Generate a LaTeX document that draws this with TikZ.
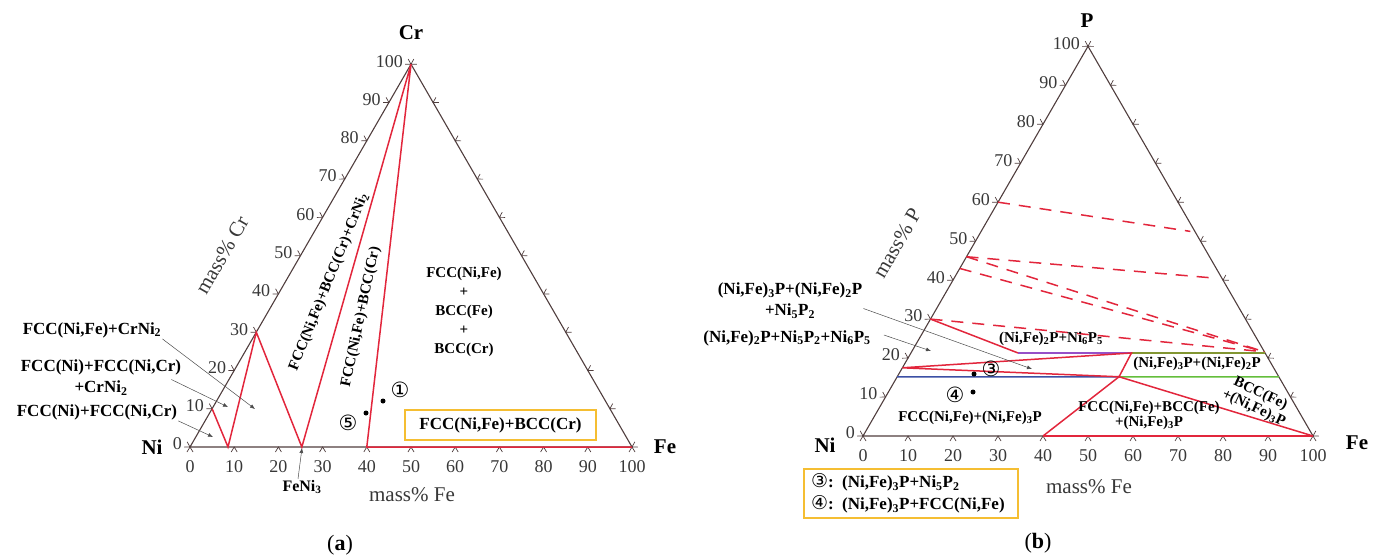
\documentclass[tikz,border=0pt]{standalone}
\usepackage{fontspec}
\setmainfont{Liberation Serif}
\newfontfamily\circfont{DejaVu Sans}
\usepackage{tikz}
\usetikzlibrary{arrows.meta, calc}
\newcommand{\ssub}[1]{\textsubscript{#1}}
\definecolor{edgec}{RGB}{80,62,62}
\definecolor{phred}{RGB}{226,38,60}
\definecolor{phpurple}{RGB}{150,80,200}
\definecolor{phblue}{RGB}{60,80,165}
\definecolor{pholive}{RGB}{130,150,50}
\definecolor{phgreen}{RGB}{100,190,60}
\definecolor{yelc}{RGB}{245,190,50}

\begin{document}
\begin{tikzpicture}[x=1pt, y=-1pt,
  >={Latex[length=5pt, width=4pt]},
  edge/.style={draw=edgec, line width=1.1pt},
  phase/.style={draw=phred, line width=1.5pt},
  tie/.style={phase, dash pattern=on 12pt off 9pt},
  tickm/.style={draw=edgec, line width=0.7pt},
  num/.style={font=\fontsize{18}{18}\selectfont, text=black!78, inner sep=0pt},
  lab/.style={font=\bfseries\fontsize{17}{21}\selectfont, align=center, inner sep=1pt},
  inlab/.style={font=\bfseries\fontsize{15}{19}\selectfont, align=center, inner sep=0pt},
  vert/.style={font=\bfseries\fontsize{21}{21}\selectfont, inner sep=0pt},
  axis/.style={font=\fontsize{21}{21}\selectfont, text=black!78, inner sep=0pt},
  ptr/.style={->, draw=black!70, line width=0.5pt},
  keybox/.style={draw=yelc, line width=1.2pt, font=\bfseries\fontsize{17}{22}\selectfont},
  circ/.style={font=\circfont\fontsize{21}{21}\selectfont, inner sep=0pt},
  dot/.style={fill=black, circle, inner sep=0pt, minimum size=5pt}
]
\useasboundingbox (0,0) rectangle (1373,559);

\coordinate (ni) at (190,447);
\coordinate (fe) at (632,447);
\coordinate (cr) at (411,64.2);
\coordinate (ni2) at (863,436);
\coordinate (fe2) at (1313,436);
\coordinate (p) at (1088,46.3);

\foreach \na/\nb/\nc in {ni/fe/cr, ni2/fe2/p} {
  \draw[edge] (\na) -- (\nb) -- (\nc) -- cycle;
  \foreach \k in {0,10,...,100} {
    \coordinate (tb) at ($(\na)!\k/100!(\nb)$);
    \coordinate (tl) at ($(\na)!\k/100!(\nc)$);
    \coordinate (tr) at ($(\nb)!\k/100!(\nc)$);
    \draw[tickm] ($(tb)+(-3,5)$) -- (tb) -- ($(tb)+(3,5)$);
    \draw[tickm] ($(tl)+(-2.8,-5.1)$) -- (tl) -- ($(tl)+(-5.8,0.1)$);
    \draw[tickm] ($(tr)+(2.8,-5.1)$) -- (tr) -- ($(tr)+(5.8,0.1)$);
    \node[num] at ($(tb)+(0,20)$) {\k};
    \node[num, anchor=east] at ($(tl)+(-8,-3)$) {\k};
  }
}

% (a) Ni-Cr-Fe
\draw[phase] (barycentric cs:ni=.9,fe=0,cr=.1) -- (barycentric cs:ni=.914,fe=.086,cr=0)
  -- (barycentric cs:ni=.7,fe=0,cr=.3) -- (barycentric cs:ni=.747,fe=.253,cr=0) -- (cr)
  -- (barycentric cs:ni=.6,fe=.4,cr=0) -- (fe);

\node[vert] (crlab) at (411,33) {Cr};
\node[vert] (nilab) at (152,447) {Ni};
\node[vert] (felab) at (665,447) {Fe};
\node[axis] (fea) at (412,495) {mass\% Fe};
\node[axis, rotate=60] (cra) at (222,255) {mass\% Cr};

\node[lab] (l1) at (92,330) {FCC(Ni,Fe)+CrNi\ssub{2}};
\node[lab] (l2) at (101,377.5) {FCC(Ni)+FCC(Ni,Cr)\\+CrNi\ssub{2}};
\node[lab] (l3) at (97,412) {FCC(Ni)+FCC(Ni,Cr)};
\coordinate (t1) at (255,409);
\coordinate (t2) at (228,407);
\coordinate (t3) at (213,437);
\draw[ptr] (l1.south east) -- (t1);
\draw[ptr] ([xshift=-11pt, yshift=-2pt]l2.east) -- (t2);
\draw[ptr] (l3.south east) -- (t3);

\node[lab, font=\bfseries\fontsize{16}{16}\selectfont] (feni) at (302,487) {FeNi\ssub{3}};
\coordinate (t0) at (302,448);
\draw[ptr] ([xshift=-4pt]feni.north) -- (t0);

\node[inlab, rotate=68] (ph1) at (329,282) {FCC(Ni,Fe)+BCC(Cr)+CrNi\ssub{2}};
\node[inlab, rotate=78] (ph2) at (361,317) {FCC(Ni,Fe)+BCC(Cr)};
\node[inlab] (ph3) at (464,312) {FCC(Ni,Fe)\\+\\BCC(Fe)\\+\\BCC(Cr)};

\node[dot] (d1) at (383,401) {};
\node[dot] (d5) at (366,413) {};
\node[circ] (c1) at (400,390) {①};
\node[circ] (c5) at (348,423) {⑤};
\node[keybox, minimum width=191pt, minimum height=30pt, inner sep=0pt] (boxa) at (500.5,425) {FCC(Ni,Fe)+BCC(Cr)};

\node[font=\fontsize{22}{22}\selectfont] (capa) at (340,545) {(\textbf{a})};

% (b) Ni-P-Fe
\draw[tie] (barycentric cs:ni2=.4,fe2=0,p=.6) -- (barycentric cs:ni2=.01,fe2=.465,p=.525);
\draw[tie] (barycentric cs:ni2=.54,fe2=0,p=.46) -- (barycentric cs:ni2=.024,fe2=.57,p=.406);
\draw[tie] (barycentric cs:ni2=.54,fe2=0,p=.46) -- (barycentric cs:ni2=0,fe2=.784,p=.216);
\draw[tie] (barycentric cs:ni2=.57,fe2=0,p=.43) -- (barycentric cs:ni2=0,fe2=.784,p=.216);
\draw[tie] (barycentric cs:ni2=.7,fe2=0,p=.3) -- (barycentric cs:ni2=0,fe2=.784,p=.216);

\coordinate (pA) at (barycentric cs:ni2=.825,fe2=0,p=.175);
\coordinate (pB) at (barycentric cs:ni2=.297,fe2=.49,p=.213);
\coordinate (pC) at (barycentric cs:ni2=.355,fe2=.493,p=.152);
\coordinate (pE) at (barycentric cs:ni2=.549,fe2=.238,p=.213);
\coordinate (pF) at (barycentric cs:ni2=.6,fe2=.4,p=0);
\coordinate (p30) at (barycentric cs:ni2=.7,fe2=0,p=.3);
\coordinate (pBr) at (barycentric cs:ni2=0,fe2=.787,p=.213);
\coordinate (pCl) at (barycentric cs:ni2=.848,fe2=0,p=.152);
\coordinate (pCr) at (barycentric cs:ni2=0,fe2=.848,p=.152);

\draw[draw=phpurple, line width=1.5pt] (pE) -- (pB);
\draw[draw=pholive, line width=1.5pt] (pB) -- (pBr);
\draw[draw=phblue, line width=1.5pt] (pCl) -- (pC);
\draw[draw=phgreen, line width=1.5pt] (pC) -- (pCr);
\draw[phase] (p30) -- (pE);
\draw[phase] (pA) -- (pB) -- (pC) -- cycle;
\draw[phase] (pF) -- (pC) -- (fe2);
\draw[phase] (pF) -- (fe2);

\node[vert] (plab) at (1087,21) {P};
\node[vert] (ni2lab) at (825,445) {Ni};
\node[vert] (fe2lab) at (1357,443) {Fe};
\node[axis] (feb) at (1089,487) {mass\% Fe};
\node[axis, rotate=60] (pb) at (897,243) {mass\% P};

\node[lab] (r1) at (790,300.5) {(Ni,Fe)\ssub{3}P+(Ni,Fe)\ssub{2}P\\+Ni\ssub{5}P\ssub{2}};
\node[lab] (r2) at (787,338) {(Ni,Fe)\ssub{2}P+Ni\ssub{5}P\ssub{2}+Ni\ssub{6}P\ssub{5}};
\coordinate (t4) at (1032,369);
\coordinate (t5) at (931,351);
\draw[ptr] ([yshift=-8pt]r1.east) -- (t4);
\draw[ptr] ([xshift=12pt, yshift=3pt]r2.east) -- (t5);

\node[inlab] (ph4) at (1051,339) {(Ni,Fe)\ssub{2}P+Ni\ssub{6}P\ssub{5}};
\node[inlab] (ph5) at (1197,364) {(Ni,Fe)\ssub{3}P+(Ni,Fe)\ssub{2}P};
\node[inlab, rotate=-25, font=\bfseries\fontsize{15}{16}\selectfont] (ph6) at (1257,401) {BCC(Fe)\\+(Ni,Fe)\ssub{3}P};
\node[inlab, font=\bfseries\fontsize{15}{15}\selectfont] (ph7) at (1149,415.5) {FCC(Ni,Fe)+BCC(Fe)\\+(Ni,Fe)\ssub{3}P};
\node[inlab] (ph8) at (970,418) {FCC(Ni,Fe)+(Ni,Fe)\ssub{3}P};

\node[dot] (d3) at (974,374) {};
\node[dot] (d4) at (973,392) {};
\node[circ] (c3) at (991,369) {③};
\node[circ] (c4) at (955,395) {④};

\node[keybox, minimum height=49pt, text width=200pt, inner xsep=7pt, align=left] (boxb) at (911,493.5)
  {{\circfont\mdseries\fontsize{19}{22}\selectfont ③}: (Ni,Fe)\ssub{3}P+Ni\ssub{5}P\ssub{2}\\{\circfont\mdseries\fontsize{19}{22}\selectfont ④}: (Ni,Fe)\ssub{3}P+FCC(Ni,Fe)};

\node[font=\fontsize{22}{22}\selectfont] (capb) at (1038,543) {(\textbf{b})};
\end{tikzpicture}
\end{document}
